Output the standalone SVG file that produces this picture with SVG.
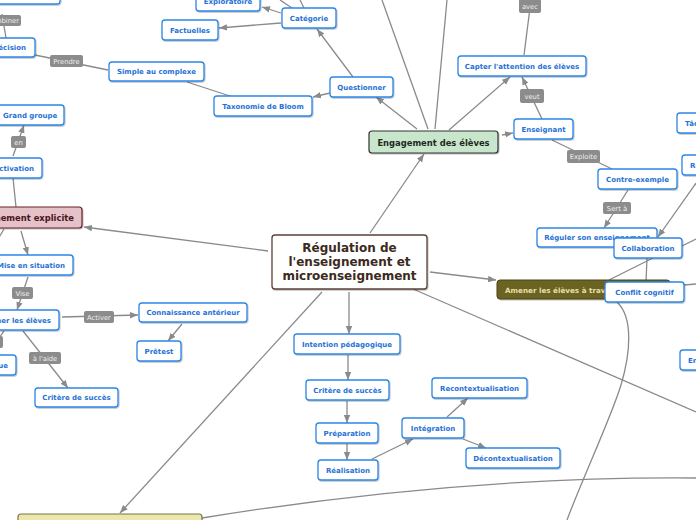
<svg xmlns="http://www.w3.org/2000/svg" width="696" height="520" viewBox="0 0 696 520">
<style>
.n rect{fill:#fff;stroke:#2a86e6;stroke-width:1.3;filter:url(#sh)}
.n text{font-family:"DejaVu Sans",Verdana,sans-serif;font-weight:bold;font-size:7px;fill:#1f72d6;text-anchor:middle}
.c path,.c line{stroke:#8a8a8a;stroke-width:1.3;fill:none}
.a{marker-end:url(#ar)}
.lb rect{fill:#8c8c8c}
.lb text{font-family:"DejaVu Sans",Verdana,sans-serif;font-size:6.8px;fill:#eeeeee;text-anchor:middle}
.t text{font-family:"DejaVu Sans",Verdana,sans-serif;font-weight:bold;text-anchor:middle}
</style>
<defs>
<filter id="sh" x="-10%" y="-20%" width="130%" height="160%"><feDropShadow dx="0.8" dy="1" stdDeviation="0.7" flood-color="#000" flood-opacity="0.25"/></filter>
<marker id="ar" viewBox="0 0 10 10" refX="10" refY="5" markerWidth="8" markerHeight="8" markerUnits="userSpaceOnUse" orient="auto"><path d="M0,1 L10,5 L0,9 z" fill="#8a8a8a"/></marker>
<clipPath id="amclip"><rect x="497" y="280" width="108" height="19"/></clipPath>
</defs>
<rect width="696" height="520" fill="#fff"/>
<g id="connectors" class="c">
<line class="a" x1="370" y1="233" x2="424" y2="154"/>
<line class="a" x1="268" y1="251" x2="84" y2="227"/>
<line class="a" x1="430" y1="272" x2="496" y2="280"/>
<line class="a" x1="349" y1="292" x2="349" y2="334"/>
<line class="a" x1="322" y1="292" x2="120" y2="513"/>
<line x1="413" y1="289" x2="696" y2="412"/>
<path d="M202,518 Q460,476 696,478"/>
<path d="M617,302 C634,318 630,355 621,385 S582,480 567,520"/>
<line x1="428" y1="129" x2="382" y2="0"/>
<line x1="435" y1="129" x2="447" y2="0"/>
<line class="a" x1="417" y1="129" x2="376" y2="97"/>
<line class="a" x1="449" y1="130" x2="510" y2="77"/>
<line class="a" x1="502" y1="135" x2="513" y2="133"/>
<line class="a" x1="281" y1="13" x2="262" y2="7"/>
<line x1="292" y1="8" x2="280" y2="0"/>
<line x1="304" y1="8" x2="300" y2="0"/>
<line class="a" x1="281" y1="23" x2="219" y2="28"/>
<line class="a" x1="353" y1="77" x2="317" y2="29"/>
<line class="a" x1="330" y1="93" x2="313" y2="97"/>
<line x1="233" y1="97" x2="187" y2="82"/>
<line x1="108" y1="70" x2="35" y2="55"/>
<line x1="6" y1="38" x2="2" y2="14"/>
<line class="a" x1="13" y1="156" x2="24" y2="125"/>
<line x1="13" y1="178" x2="16" y2="207"/>
<line class="a" x1="21" y1="231" x2="28" y2="255"/>
<line x1="4" y1="229" x2="-6" y2="246"/>
<line class="a" x1="28" y1="277" x2="17" y2="310"/>
<line class="a" x1="62" y1="317" x2="138" y2="315"/>
<line class="a" x1="182" y1="324" x2="168" y2="341"/>
<line class="a" x1="23" y1="331" x2="68" y2="388"/>
<line x1="4" y1="331" x2="-4" y2="342"/>
<line class="a" x1="348" y1="355" x2="348" y2="380"/>
<line class="a" x1="347" y1="401" x2="347" y2="423"/>
<line class="a" x1="347" y1="444" x2="347" y2="460"/>
<line class="a" x1="372" y1="459" x2="413" y2="439"/>
<line class="a" x1="447" y1="417" x2="468" y2="398"/>
<line class="a" x1="463" y1="439" x2="486" y2="448"/>
<line class="a" x1="542" y1="119" x2="522" y2="77"/>
<line x1="524" y1="55" x2="531" y2="0"/>
<line x1="552" y1="140" x2="612" y2="169"/>
<line class="a" x1="628" y1="190" x2="604" y2="228"/>
<line class="a" x1="696" y1="183" x2="658" y2="237"/>
<line x1="682" y1="246" x2="696" y2="239"/>
<line x1="653" y1="258" x2="609" y2="280"/>
<line x1="647" y1="258" x2="646" y2="282"/>
<line x1="684" y1="285" x2="696" y2="284"/>
<g class="lb">
<rect x="-20" y="15" width="41" height="11" rx="2"/><text x="19" y="23" style="text-anchor:end">Combiner</text>
<rect x="50" y="55" width="33" height="12" rx="2"/><text x="66.5" y="63.5">Prendre</text>
<rect x="519" y="-1" width="22" height="14" rx="2"/><text x="530" y="9">avec</text>
<rect x="520" y="89" width="24" height="14" rx="2"/><text x="532" y="98.5">veut</text>
<rect x="567" y="150" width="33" height="13" rx="2"/><text x="583.5" y="159">Exploite</text>
<rect x="603" y="202" width="28" height="12" rx="2"/><text x="617" y="210.5">Sert à</text>
<rect x="11" y="136" width="15" height="12" rx="2"/><text x="18.5" y="144.5">en</text>
<rect x="12" y="287" width="21" height="12" rx="2"/><text x="22.5" y="295.5">Vise</text>
<rect x="84" y="311" width="30" height="12" rx="2"/><text x="99" y="319.5">Activer</text>
<rect x="29" y="352" width="32" height="12" rx="2"/><text x="45" y="360.5">à l'aide</text>
<rect x="-20" y="336" width="23" height="12" rx="2"/>
</g>
</g>
<g id="central" class="t">
<rect x="272" y="235" width="155" height="54" rx="3" fill="#fff" stroke="#5a4236" stroke-width="1.3" filter="url(#sh)"/>
<text x="349.5" y="252" font-size="12" fill="#3b2a20">Régulation de</text>
<text x="349.5" y="266" font-size="12" fill="#3b2a20">l'enseignement et</text>
<text x="349.5" y="280" font-size="12" fill="#3b2a20">microenseignement</text>
</g>
<g id="engagement" class="t">
<rect x="369" y="131" width="129" height="22" rx="3" fill="#c8e6cc" stroke="#333" stroke-width="1.2" filter="url(#sh)"/>
<text x="433.5" y="145.5" font-size="8.4" fill="#1e2a20">Engagement des élèves</text>
</g>
<g id="explicite" class="t">
<rect x="-52" y="207" width="134" height="21" rx="3" fill="#e4c2c7" stroke="#6b1e2c" stroke-width="1.2" filter="url(#sh)"/>
<text x="74" y="221" font-size="8.4" fill="#4a1420" style="text-anchor:end">Enseignement explicite</text>
</g>
<g id="amener" class="t">
<rect x="497" y="280" width="173" height="19" rx="3" fill="#6b6322" stroke="#4a4418" stroke-width="1" filter="url(#sh)"/>
<text x="505" y="292.5" font-size="7.2" fill="#e6dfa6" style="text-anchor:start" clip-path="url(#amclip)">Amener les élèves à travailler</text>
</g>
<g id="bottom-topic" class="t">
<rect x="18" y="514" width="184" height="20" rx="3" fill="#ece7aa" stroke="#77744c" stroke-width="1.2"/>
</g>
<g id="n-topleft" class="n"><rect x="-40" y="-16" width="100" height="20" rx="3"/></g>
<g id="n-decision" class="n"><rect x="-40" y="38" width="75" height="19" rx="3"/><text x="26" y="50" style="text-anchor:end">Décision</text></g>
<g id="n-simple" class="n"><rect x="109" y="62" width="95" height="19" rx="3"/><text x="156.5" y="74">Simple au complexe</text></g>
<g id="n-factuelles" class="n"><rect x="162" y="20" width="56" height="20" rx="3"/><text x="190" y="32.5">Factuelles</text></g>
<g id="n-exploratoire" class="n"><rect x="196" y="-9" width="64" height="20" rx="3"/><text x="228" y="4">Exploratoire</text></g>
<g id="n-categorie" class="n"><rect x="282" y="8" width="54" height="20" rx="3"/><text x="309" y="20.5">Catégorie</text></g>
<g id="n-questionner" class="n"><rect x="330" y="77" width="63" height="20" rx="3"/><text x="361.5" y="89.5">Questionner</text></g>
<g id="n-bloom" class="n"><rect x="214" y="96" width="98" height="20" rx="3"/><text x="263" y="108.5">Taxonomie de Bloom</text></g>
<g id="n-capter" class="n"><rect x="458" y="56" width="128" height="20" rx="3"/><text x="522" y="68.5">Capter l'attention des élèves</text></g>
<g id="n-enseignant" class="n"><rect x="514" y="119" width="59" height="20" rx="3"/><text x="543.5" y="131.5">Enseignant</text></g>
<g id="n-contre" class="n"><rect x="598" y="169" width="79" height="20" rx="3"/><text x="637.5" y="181.5">Contre-exemple</text></g>
<g id="n-reguler" class="n"><rect x="537" y="228" width="120" height="19" rx="3"/><text x="597" y="240">Réguler son enseignement</text></g>
<g id="n-collab" class="n"><rect x="614" y="238" width="68" height="20" rx="3"/><text x="648" y="250.5">Collaboration</text></g>
<g id="n-conflit" class="n"><rect x="605" y="282" width="79" height="20" rx="3"/><text x="644.5" y="294.5">Conflit cognitif</text></g>
<g id="n-taches" class="n"><rect x="677" y="113" width="40" height="20" rx="3"/><text x="685" y="125.5" style="text-anchor:start">Tâches</text></g>
<g id="n-re" class="n"><rect x="682" y="155" width="40" height="20" rx="3"/><text x="690" y="167.5" style="text-anchor:start">Rétroaction</text></g>
<g id="n-en" class="n"><rect x="680" y="350" width="40" height="20" rx="3"/><text x="688" y="362.5" style="text-anchor:start">Enseignant</text></g>
<g id="n-grand" class="n"><rect x="-20" y="105" width="84" height="20" rx="3"/><text x="3" y="117.5" style="text-anchor:start">Grand groupe</text></g>
<g id="n-activation" class="n"><rect x="-30" y="158" width="72" height="20" rx="3"/><text x="34" y="170.5" style="text-anchor:end">Activation</text></g>
<g id="n-mise" class="n"><rect x="-30" y="255" width="103" height="20" rx="3"/><text x="65" y="267.5" style="text-anchor:end">Mise en situation</text></g>
<g id="n-amener-eleves" class="n"><rect x="-40" y="310" width="99" height="20" rx="3"/><text x="51" y="322.5" style="text-anchor:end">Amener les élèves</text></g>
<g id="n-connaissance" class="n"><rect x="139" y="303" width="108" height="19" rx="3"/><text x="193" y="315">Connaissance antérieur</text></g>
<g id="n-pretest" class="n"><rect x="137" y="341" width="44" height="20" rx="3"/><text x="159" y="353.5">Prêtest</text></g>
<g id="n-pratique" class="n"><rect x="-40" y="355" width="56" height="20" rx="3"/><text x="8" y="367.5" style="text-anchor:end">Pratique</text></g>
<g id="n-critere-left" class="n"><rect x="35" y="388" width="83" height="19" rx="3"/><text x="76.5" y="400">Critère de succès</text></g>
<g id="n-intention" class="n"><rect x="294" y="334" width="106" height="20" rx="3"/><text x="347" y="346.5">Intention pédagogique</text></g>
<g id="n-critere" class="n"><rect x="306" y="380" width="83" height="20" rx="3"/><text x="347.5" y="392.5">Critère de succès</text></g>
<g id="n-preparation" class="n"><rect x="316" y="423" width="62" height="20" rx="3"/><text x="347" y="435.5">Préparation</text></g>
<g id="n-realisation" class="n"><rect x="318" y="460" width="60" height="20" rx="3"/><text x="348" y="472.5">Réalisation</text></g>
<g id="n-integration" class="n"><rect x="402" y="418" width="62" height="20" rx="3"/><text x="433" y="430.5">Intégration</text></g>
<g id="n-recontext" class="n"><rect x="432" y="378" width="95" height="20" rx="3"/><text x="479.5" y="390.5">Recontextualisation</text></g>
<g id="n-decontext" class="n"><rect x="466" y="448" width="94" height="20" rx="3"/><text x="513" y="460.5">Décontextualisation</text></g>
</svg>
